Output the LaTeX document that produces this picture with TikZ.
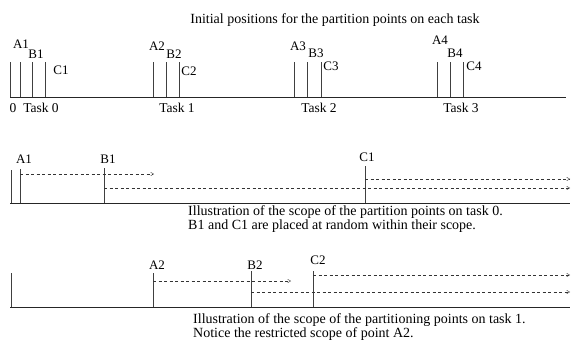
\documentclass[tikz,border=0pt]{standalone}
\usepackage{fontspec}
\setmainfont{Liberation Serif}
\usetikzlibrary{arrows.meta}
\begin{document}
\begin{tikzpicture}[x=1pt,y=-1pt,
  base/.style={line width=0.6pt, black!85},
  tickline/.style={line width=0.5pt, black!75},
  scopearrow/.style={dash pattern=on 3pt off 2.5pt, line width=0.4pt, black!80,
    -{Straight Barb[length=3pt,width=3.5pt]}},
  lab/.style={font=\fontsize{13}{15}\selectfont, inner sep=0pt},
  tasklab/.style={font=\fontsize{13.5}{15}\selectfont, inner sep=0pt},
  captext/.style={font=\fontsize{14}{16}\selectfont, inner sep=0pt, anchor=west},
]
\useasboundingbox (0,0) rectangle (572,340);

% title
\node[captext, anchor=center] (title) at (335,20) {Initial positions for the partition points on each task};

% ---------- row 1 ----------
\coordinate (r1l) at (10,97);
\coordinate (r1r) at (566,97);
\draw[base] (r1l) -- (r1r);
\foreach \x/\n in {10/z0,20/a1,32/b1,45/c1,153/a2,166/b2,179/c2,294/a3,307/b3,321/c3,437/a4,450/b4,463/c4}{
  \coordinate (r1\n b) at (\x,97);
  \coordinate (r1\n t) at (\x,62);
  \draw[tickline] (r1\n b) -- (r1\n t);
}
\node[lab] (lA1) at (21,44) {A1};
\node[lab] (lB1) at (36,54) {B1};
\node[lab] (lC1) at (61,70) {C1};
\node[lab] (lA2) at (157,46) {A2};
\node[lab] (lB2) at (174,54) {B2};
\node[lab] (lC2) at (189,71) {C2};
\node[lab] (lA3) at (298,46) {A3};
\node[lab] (lB3) at (316,53) {B3};
\node[lab] (lC3) at (331,66) {C3};
\node[lab] (lA4) at (440,40) {A4};
\node[lab] (lB4) at (455,53) {B4};
\node[lab] (lC4) at (474,66) {C4};
\node[tasklab] (zero) at (13,108) {0};
\node[tasklab] (task0) at (41,108) {Task 0};
\node[tasklab] (task1) at (177,108) {Task 1};
\node[tasklab] (task2) at (319,108) {Task 2};
\node[tasklab] (task3) at (461,108) {Task 3};

% ---------- row 2 ----------
\coordinate (r2l) at (10,203);
\coordinate (r2r) at (570,203);
\draw[base] (r2l) -- (r2r);
\coordinate (r2zb) at (11,203); \coordinate (r2zt) at (11,170);
\coordinate (r2ab) at (20,203); \coordinate (r2at) at (20,169);
\coordinate (r2bb) at (104,203); \coordinate (r2bt) at (104,168);
\coordinate (r2cb) at (365,203); \coordinate (r2ct) at (365,166);
\draw[tickline] (r2zb) -- (r2zt);
\draw[tickline] (r2ab) -- (r2at);
\draw[tickline] (r2bb) -- (r2bt);
\draw[tickline] (r2cb) -- (r2ct);
\node[lab] (mA1) at (24,159) {A1};
\node[lab] (mB1) at (108,159) {B1};
\node[lab] (mC1) at (367,157) {C1};
\coordinate (sA1) at (20,174);  \coordinate (eA1) at (154,174);
\coordinate (sB1) at (104,188); \coordinate (eB1) at (570,188);
\coordinate (sC1) at (365,179); \coordinate (eC1) at (570,179);
\draw[scopearrow] (sA1) -- (eA1);
\draw[scopearrow] (sB1) -- (eB1);
\draw[scopearrow] (sC1) -- (eC1);
\node[captext] (cap1) at (188,212) {Illustration of the scope of the partition points on task 0.};
\node[captext] (cap2) at (188,226) {B1 and C1 are placed at random within their scope.};

% ---------- row 3 ----------
\coordinate (r3l) at (10,307);
\coordinate (r3r) at (570,307);
\draw[base] (r3l) -- (r3r);
\coordinate (r3zb) at (11,307); \coordinate (r3zt) at (11,273);
\coordinate (r3ab) at (153,307); \coordinate (r3at) at (153,273);
\coordinate (r3bb) at (251,307); \coordinate (r3bt) at (251,271);
\coordinate (r3cb) at (313,307); \coordinate (r3ct) at (313,271);
\draw[tickline] (r3zb) -- (r3zt);
\draw[tickline] (r3ab) -- (r3at);
\draw[tickline] (r3bb) -- (r3bt);
\draw[tickline] (r3cb) -- (r3ct);
\node[lab] (nA2) at (157,265) {A2};
\node[lab] (nB2) at (255,265) {B2};
\node[lab] (nC2) at (318,260) {C2};
\coordinate (sA2) at (153,281); \coordinate (eA2) at (291,281);
\coordinate (sB2) at (251,292); \coordinate (eB2) at (570,292);
\coordinate (sC2) at (313,275); \coordinate (eC2) at (570,275);
\draw[scopearrow] (sA2) -- (eA2);
\draw[scopearrow] (sB2) -- (eB2);
\draw[scopearrow] (sC2) -- (eC2);
\node[captext] (cap3) at (193,320) {Illustration of the scope of the partitioning points on task 1.};
\node[captext] (cap4) at (193,334) {Notice the restricted scope of point A2.};
\end{tikzpicture}
\end{document}
